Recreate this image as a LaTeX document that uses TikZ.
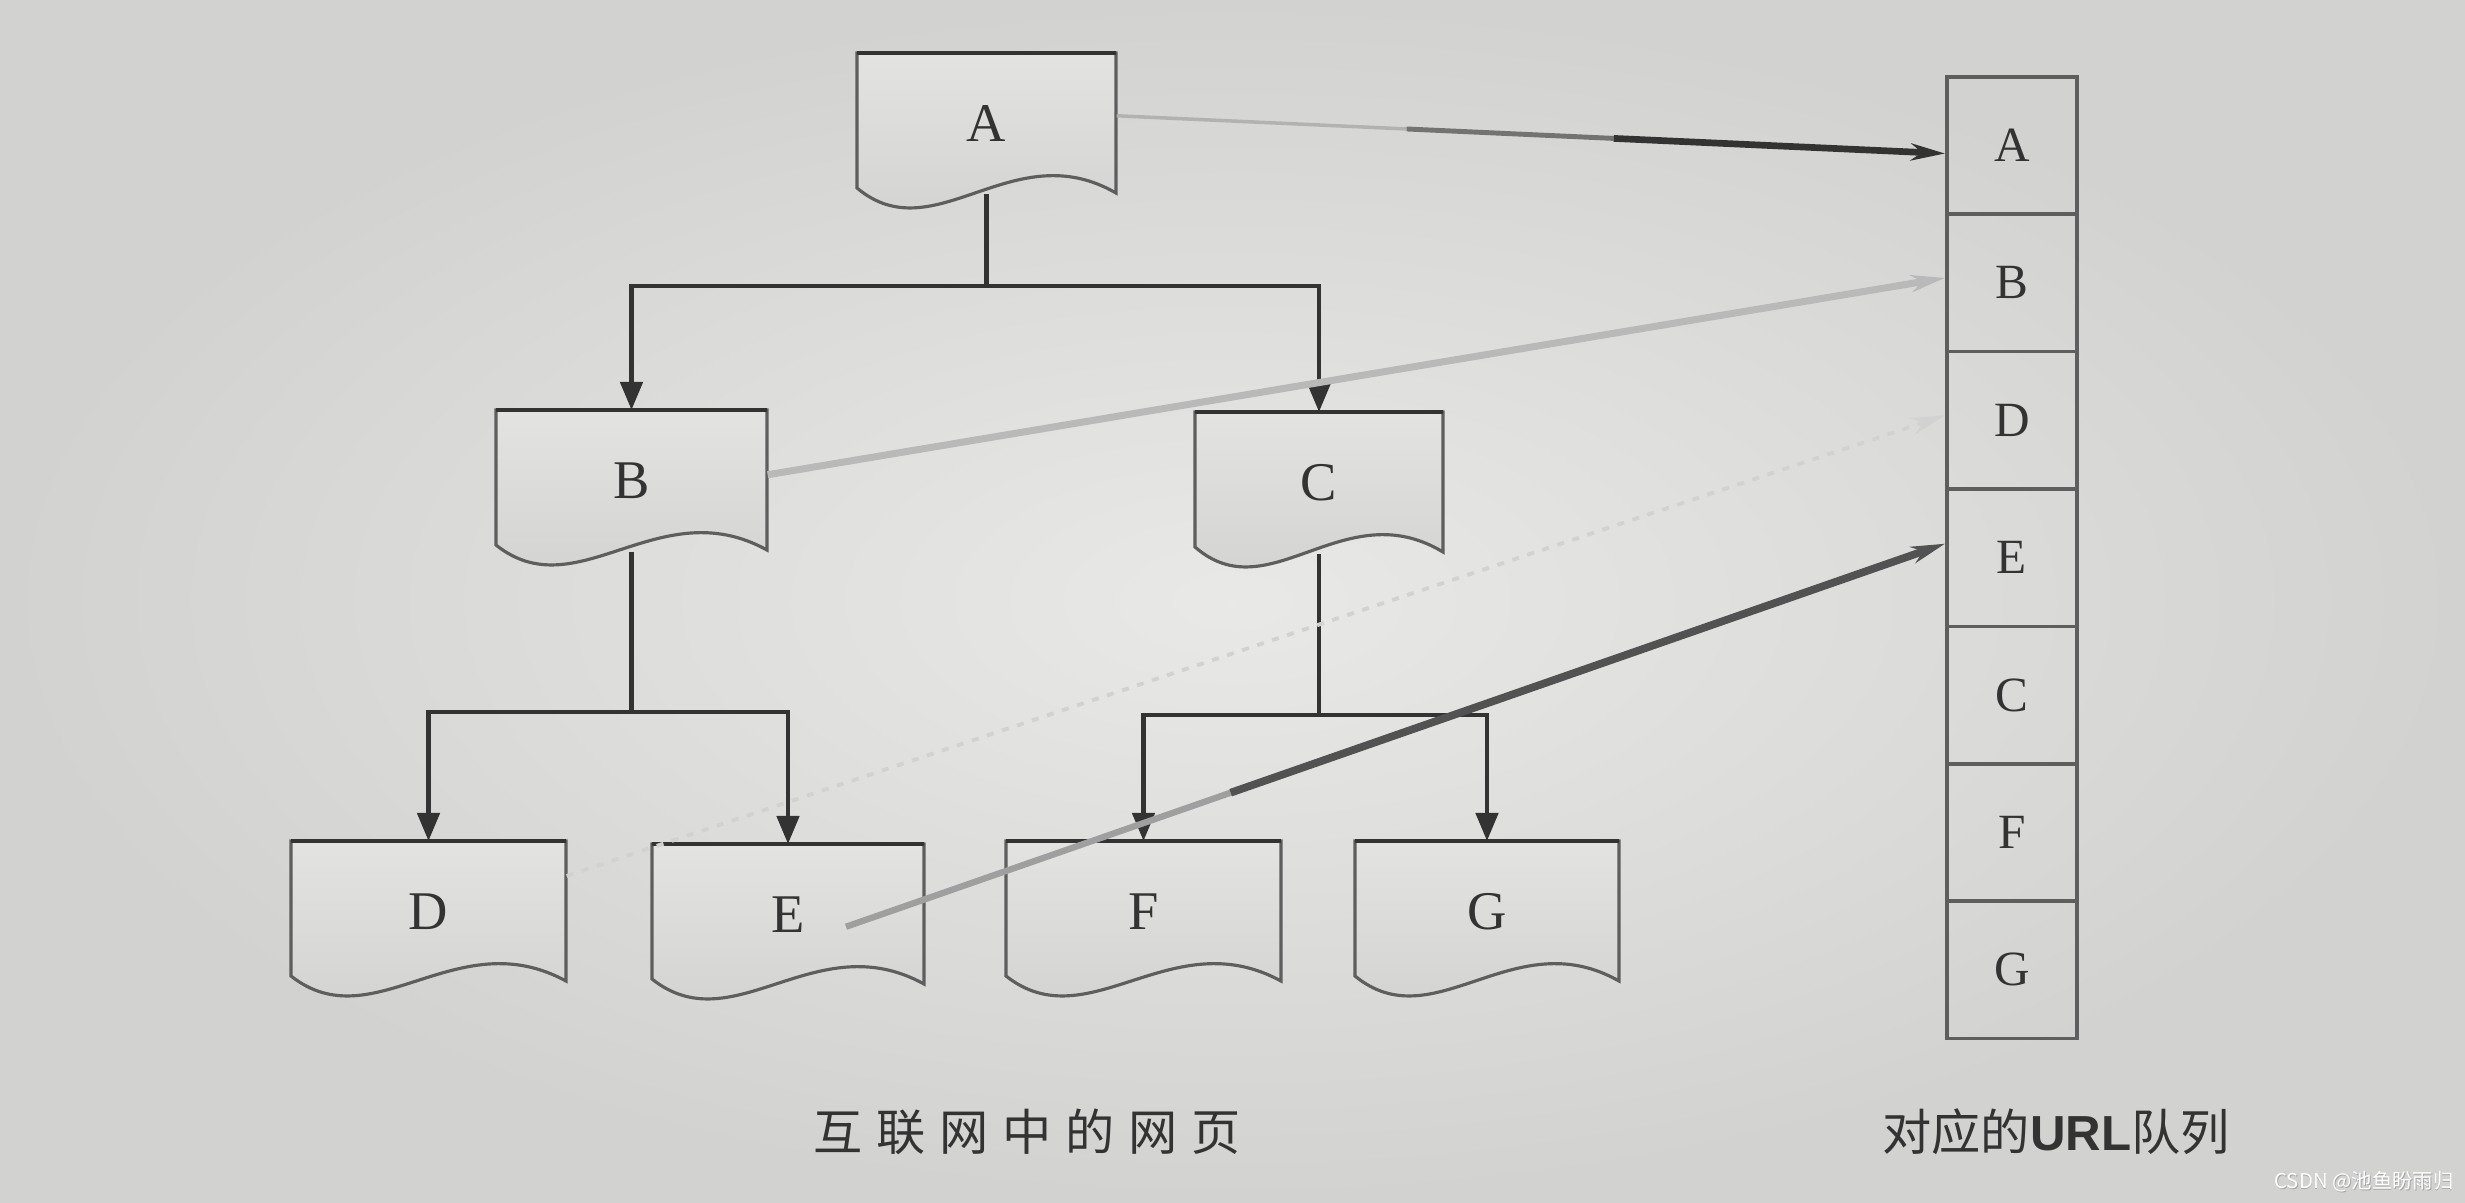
\documentclass[tikz,border=0pt]{standalone}
\usepackage{fontspec}
\setmainfont{Liberation Serif}
\newfontfamily\cjk{Noto Sans CJK SC}
\newfontfamily\lsans{Liberation Sans}
\usetikzlibrary{arrows.meta,calc}
\definecolor{paper}{HTML}{E3E4E1}
\definecolor{paperdark}{HTML}{D2D3D0}
\definecolor{stip}{HTML}{D0D1CE}
\definecolor{ink}{HTML}{333333}
\definecolor{edge}{HTML}{5E5E5E}
\newcommand\docbox[5]{%
  \pgfmathsetmacro\xa{#2}\pgfmathsetmacro\xb{#2+#4}%
  \pgfmathsetmacro\cx{#2+#4/2}%
  \draw[docline, top color=paper, bottom color=stip]
    (\xa,#3) -- (\xb,#3) -- (\xb,#3+140)
    .. controls ({#2+0.6*#4},#3+80) and ({#2+0.3*#4},#3+200) .. (\xa,#3+135) -- cycle;
  \draw[topline] (\xa,#3) -- (\xb,#3);
  \node[docnode, minimum width=#4*0.01cm] (#1) at (\cx,#3) {#5};
}
\begin{document}
\begin{tikzpicture}[x=0.01cm,y=-0.01cm,
  docline/.style={draw=edge, line width=0.9pt},
  topline/.style={draw=ink, line width=1.3pt},
  docnode/.style={minimum height=1.40cm, inner sep=0pt, anchor=north,
    font=\fontsize{15.5}{18}\selectfont, text=ink},
  tree/.style={draw=ink, line width=1.3pt, -{Triangle[length=0.28cm,width=0.22cm]}},
  stem/.style={draw=ink, line width=1.3pt},
  cell/.style={draw=edge, line width=1pt, minimum width=1.30cm, minimum height=1.374cm,
    inner sep=0pt, font=\fontsize{14}{16}\selectfont, text=ink, anchor=north west},
  qtip/.style={-{Stealth[length=0.34cm,width=0.17cm]}},
]
\useasboundingbox (0,0) rectangle (2465,1202);
\shade[inner color=paper!80!white, outer color=paperdark] (0,0) rectangle (2465,1202);

% documents
\docbox{A}{857}{53}{259}{A}
\docbox{B}{496}{410}{271}{B}
\docbox{C}{1195}{412}{248}{C}
\docbox{D}{291}{841}{275}{D}
\docbox{E}{652}{844}{272}{E}
\docbox{F}{1006}{841}{275}{F}
\docbox{G}{1355}{841}{264}{G}

% tree connectors
\coordinate (busA) at (0,286);
\coordinate (busB) at (0,712);
\coordinate (busC) at (0,715);
\draw[stem] (A.south) -- (A.south |- busA);
\draw[tree] (A.south |- busA) -| (B.north);
\draw[tree] (A.south |- busA) -| (C.north);
\draw[stem] (B.south) -- (B.south |- busB);
\draw[tree] (B.south |- busB) -| (D.north);
\draw[tree] (B.south |- busB) -| (E.north);
\draw[stem] (C.south) -- (C.south |- busC);
\draw[tree] (C.south |- busC) -| (F.north);
\draw[tree] (C.south |- busC) -| (G.north);

% URL queue
\node[cell] (q1) at (1945,75) {A};
\node[cell] (q2) at (1945,212.4) {B};
\node[cell] (q3) at (1945,349.8) {D};
\node[cell] (q4) at (1945,487.2) {E};
\node[cell] (q5) at (1945,624.6) {C};
\node[cell] (q6) at (1945,762) {F};
\node[cell] (q7) at (1945,899.4) {G};

% queue arrows
\coordinate (aS) at ($(A.east)+(0,-8)$);
\coordinate (aT) at ($(q1.west)+(0,8)$);
\draw[gray!60, line width=1pt] (aS) -- ($(aS)!0.35!(aT)$);
\draw[gray!90!black, line width=1.4pt] ($(aS)!0.35!(aT)$) -- ($(aS)!0.6!(aT)$);
\draw[ink, line width=1.9pt, qtip] ($(aS)!0.6!(aT)$) -- (aT);

\draw[gray!55, line width=2pt, qtip] ($(B.east)+(0,-6)$) -- ($(q2.west)+(0,-5)$);

\coordinate (dS) at ($(D.north east)+(0,35)$);
\draw[gray!35, line width=1.1pt, dash pattern=on 2pt off 2.5pt, qtip] (dS) -- ($(q3.west)+(0,-5)$);

\coordinate (eS) at ($(E.center)+(58,12)$);
\coordinate (eT) at ($(q4.west)+(0,-14)$);
\draw[gray!75, line width=1.8pt] (eS) -- ($(eS)!0.35!(eT)$);
\draw[ink!85, line width=2.2pt, qtip] ($(eS)!0.35!(eT)$) -- (eT);

% captions
\node[font=\cjk\fontsize{14}{16}\selectfont\addfontfeature{LetterSpace=28}, text=ink] (cap1) at (1027,1132) {互联网中的网页};
\node[font=\cjk\fontsize{14}{16}\selectfont, text=ink] (cap2) at (2056,1132) {对应的{\lsans\bfseries URL}队列};
\node[font=\cjk\fontsize{5.8}{7}\selectfont, text=gray!70] (wm0) at (2364.7,1182.7) {CSDN @池鱼盼雨归};
\node[font=\cjk\fontsize{5.8}{7}\selectfont, text=white] (wm) at (2364,1182) {CSDN @池鱼盼雨归};
\end{tikzpicture}
\end{document}
